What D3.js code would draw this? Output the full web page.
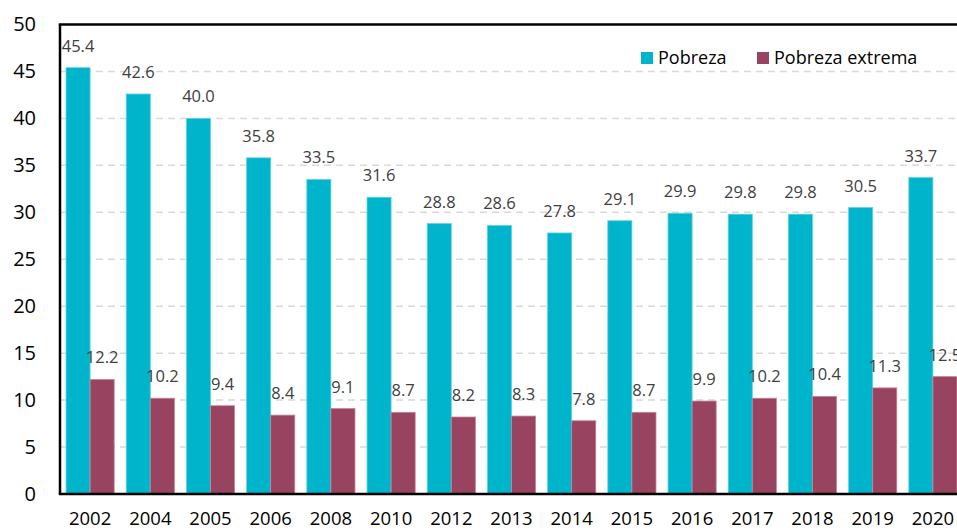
<!DOCTYPE html>
<html lang="es">
<head>
    <meta charset="UTF-8">
    <title>Pobreza y pobreza extrema</title>
    <script src="https://d3js.org/d3.v7.min.js"></script>
    <style>
        body { margin: 0; background: #fff; }
        svg { font-family: "Open Sans", "Noto Sans", sans-serif; display: block; }
    </style>
</head>
<body>
    <div id="chart"></div>
    <script>
        // data
        const years = ["2002", "2004", "2005", "2006", "2008", "2010", "2012", "2013", "2014", "2015", "2016", "2017", "2018", "2019", "2020"];
        const pobreza = [45.4, 42.6, 40.0, 35.8, 33.5, 31.6, 28.8, 28.6, 27.8, 29.1, 29.9, 29.8, 29.8, 30.5, 33.7];
        const extrema = [12.2, 10.2, 9.4, 8.4, 9.1, 8.7, 8.2, 8.3, 7.8, 8.7, 9.9, 10.2, 10.4, 11.3, 12.5];
        const seriesNames = ["Pobreza", "Pobreza extrema"];
        const yTicks = [0, 5, 10, 15, 20, 25, 30, 35, 40, 45, 50];

        const width = 957, height = 531;
        const margin = { top: 24.5, right: -6, bottom: 37, left: 60 };
        const colors = ["#00b4cb", "#98435f"];
        const edges = ["#5fd3e2", "#c48598"];

        const svg = d3.select("#chart").append("svg")
            .attr("width", width)
            .attr("height", height);

        const x0 = d3.scaleBand()
            .domain(years)
            .range([margin.left, width - margin.right])
            .paddingInner(0.2)
            .paddingOuter(0.1);

        const x1 = d3.scaleBand()
            .domain(seriesNames)
            .range([0, x0.bandwidth()]);

        const y = d3.scaleLinear()
            .domain([0, 50])
            .range([height - margin.bottom, margin.top]);

        // dashed gridlines
        svg.append("g")
            .selectAll("line")
            .data(yTicks.filter(t => t > 0 && t < 50))
            .join("line")
            .attr("x1", margin.left)
            .attr("x2", width)
            .attr("y1", d => y(d))
            .attr("y2", d => y(d))
            .attr("stroke", "#d9d9d9")
            .attr("stroke-width", 1.5)
            .attr("stroke-dasharray", "7,5");

        const rows = years.map((yr, i) => ({ year: yr, vals: [pobreza[i], extrema[i]] }));

        const groups = svg.append("g")
            .selectAll("g")
            .data(rows)
            .join("g")
            .attr("transform", d => `translate(${x0(d.year)},0)`);

        groups.selectAll("rect")
            .data(d => d.vals.map((v, k) => ({ key: seriesNames[k], k, v })))
            .join("rect")
            .attr("x", d => x1(d.key))
            .attr("width", x1.bandwidth())
            .attr("y", d => y(d.v))
            .attr("height", d => y(0) - y(d.v))
            .attr("fill", d => colors[d.k])
            .attr("stroke", d => edges[d.k])
            .attr("stroke-width", 0.8);

        groups.selectAll("text")
            .data(d => d.vals.map((v, k) => ({ key: seriesNames[k], k, v })))
            .join("text")
            .attr("x", d => x1(d.key) + x1.bandwidth() / 2)
            .attr("y", d => y(d.v) - 16)
            .attr("text-anchor", "middle")
            .attr("fill", "#404040")
            .style("font-size", "16.5px")
            .text(d => d.v.toFixed(1));

        // axes
        const yAxis = svg.append("g")
            .attr("transform", `translate(${margin.left},0)`)
            .call(d3.axisLeft(y).tickValues(yTicks).tickSize(0).tickPadding(24));
        yAxis.select(".domain").remove();
        yAxis.selectAll("text")
            .attr("fill", "#000")
            .style("font-size", "20px")
            .style("font-family", "'Open Sans', sans-serif");

        const xAxis = svg.append("g")
            .attr("transform", `translate(0,${y(0)})`)
            .call(d3.axisBottom(x0).tickSize(0).tickPadding(18));
        xAxis.select(".domain").remove();
        xAxis.selectAll("text")
            .attr("fill", "#000")
            .style("font-size", "18.5px")
            .style("font-family", "'Open Sans', sans-serif");

        // frame lines: left, bottom, top
        svg.append("line")
            .attr("x1", margin.left).attr("x2", margin.left)
            .attr("y1", y(50)).attr("y2", y(0))
            .attr("stroke", "#000").attr("stroke-width", 2.5);
        svg.append("line")
            .attr("x1", margin.left - 1.25).attr("x2", width)
            .attr("y1", y(0)).attr("y2", y(0))
            .attr("stroke", "#000").attr("stroke-width", 2.5);
        svg.append("line")
            .attr("x1", margin.left - 1.25).attr("x2", width)
            .attr("y1", y(50)).attr("y2", y(50))
            .attr("stroke", "#000").attr("stroke-width", 2.5);

        // legend
        const legendX = [641, 757];
        const legend = svg.append("g")
            .selectAll("g")
            .data(seriesNames)
            .join("g")
            .attr("transform", (d, i) => `translate(${legendX[i]},52)`);
        legend.append("rect")
            .attr("width", 12)
            .attr("height", 12)
            .attr("fill", (d, i) => colors[i]);
        legend.append("text")
            .attr("x", 17)
            .attr("y", 12)
            .attr("fill", "#000")
            .style("font-size", "18px")
            .text(d => d);
    </script>
</body>
</html>
